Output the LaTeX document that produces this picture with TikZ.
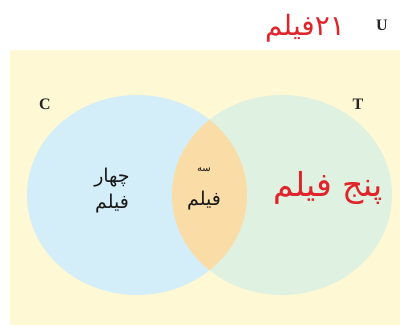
\documentclass[tikz,border=0pt]{standalone}
\usepackage{fontspec}
\setmainfont{Liberation Serif}
\newfontfamily\arabicfont[Script=Arabic]{DejaVu Sans}
\TeXXeTstate=1
\definecolor{universe}{HTML}{FFF8D4}
\definecolor{setC}{HTML}{D3EEF8}
\definecolor{setT}{HTML}{DFF1E0}
\definecolor{both}{HTML}{FADCA6}
\definecolor{redink}{HTML}{E0242C}
\tikzset{
  setname/.style={font=\fontsize{16}{16}\selectfont\bfseries, text=black!85, inner sep=0pt},
  count/.style={font=\arabicfont\fontsize{19}{21}\selectfont, text=black!90, inner sep=0pt, align=center},
  bigcount/.style={font=\arabicfont\fontsize{33}{35}\selectfont, text=redink, inner sep=0pt}
}
\begin{document}
\begin{tikzpicture}[x=1pt,y=-1pt]
\useasboundingbox (0,0) rectangle (400,325);
% universal set
\fill[universe] (10,50) rectangle (400,325);
% the two sets
\fill[setC] (137,195) ellipse [x radius=110, y radius=100];
\fill[setT] (282,195) ellipse [x radius=110, y radius=100];
% their intersection
\begin{scope}
  \clip (137,195) ellipse [x radius=110, y radius=100];
  \fill[both] (282,195) ellipse [x radius=110, y radius=100];
\end{scope}
% set names
\node[setname] (U) at (382,25) {U};
\node[setname] (C) at (45,104) {C};
\node[setname] (T) at (358,104) {T};
% counts
\node[bigcount, font=\arabicfont\fontsize{28}{30}\selectfont] (total) at (305,28) {\beginR\beginL ۲۱\endL فیلم\endR};
\node[count] (conly) at (112,191) {\beginR چهار\endR\\[5pt]\beginR فیلم\endR};
\node[count] (bothcount) at (204,189) {{\fontsize{10}{11}\selectfont\beginR سه\endR}\\[13pt]\beginR فیلم\endR};
\node[bigcount] (tonly) at (328,188) {\beginR پنج فیلم\endR};
\end{tikzpicture}
\end{document}
